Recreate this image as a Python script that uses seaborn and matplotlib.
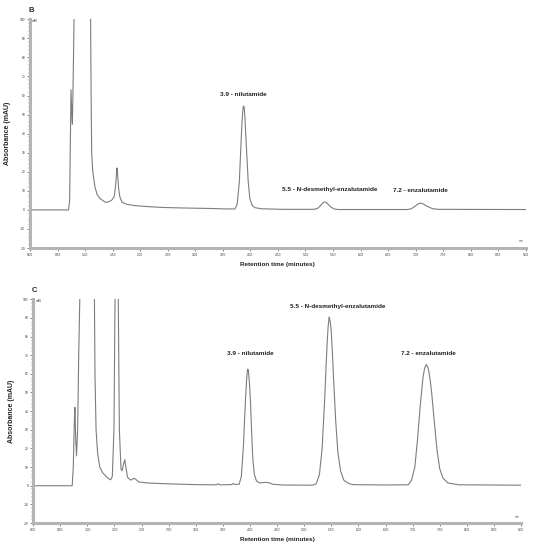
import numpy as np
import pandas as pd
import matplotlib
matplotlib.use('Agg')
import matplotlib.pyplot as plt
from matplotlib.ticker import MultipleLocator
import seaborn as sns

# Cromatograma B
tiempo_b = [0.00, 0.70, 0.72, 0.735, 0.745, 0.76, 0.77, 0.785, 0.80, 0.82, 1.08, 1.10, 1.11,
            1.12, 1.14, 1.18, 1.22, 1.27, 1.32, 1.37, 1.42, 1.48, 1.53, 1.555, 1.57, 1.58,
            1.59, 1.61, 1.63, 1.67, 1.75, 1.90, 2.10, 2.40, 2.80, 3.20, 3.60, 3.72, 3.76,
            3.80, 3.83, 3.85, 3.86, 3.87, 3.88, 3.89, 3.90, 3.91, 3.93, 3.96, 3.99, 4.03,
            4.08, 4.20, 4.60, 5.15, 5.22, 5.28, 5.31, 5.33, 5.35, 5.37, 5.40, 5.46, 5.52,
            5.60, 6.85, 6.92, 7.00, 7.04, 7.07, 7.10, 7.14, 7.20, 7.30, 7.40, 9.00]
abs_b = [0.0, 0.0, 5, 40, 63, 50, 45, 70, 100, 150, 150, 100, 60,
         30, 20, 12, 8, 6, 5, 4, 4.2, 5, 7, 13, 19, 22,
         19, 11, 7, 4, 3, 2.3, 1.8, 1.3, 1.0, 0.8, 0.5, 0.5, 3,
         15, 35, 47, 51, 54, 54.5, 53, 49, 43, 32, 15, 6, 2.5,
         1.2, 0.6, 0.3, 0.3, 0.8, 2.5, 3.5, 4.0, 4.2, 4.0, 3.3, 1.5, 0.5,
         0.2, 0.2, 0.6, 2.2, 3.1, 3.5, 3.5, 3.1, 2.0, 0.7, 0.3, 0.2]

# Cromatograma C
tiempo_c = [0.00, 0.72, 0.74, 0.76, 0.77, 0.785, 0.80, 0.82, 0.84, 0.86, 0.88, 1.11, 1.13,
            1.14, 1.16, 1.19, 1.23, 1.28, 1.33, 1.38, 1.43, 1.46, 1.49, 1.51, 1.52, 1.55,
            1.57, 1.59, 1.62, 1.64, 1.67, 1.69, 1.71, 1.74, 1.80, 1.86, 1.89, 1.95, 2.10,
            2.50, 3.00, 3.38, 3.41, 3.45, 3.66, 3.69, 3.72, 3.80, 3.84, 3.88, 3.90, 3.92,
            3.94, 3.95, 3.96, 3.97, 3.99, 4.01, 4.02, 4.05, 4.08, 4.12, 4.18, 4.28, 4.34,
            4.42, 4.60, 5.15, 5.22, 5.28, 5.33, 5.38, 5.40, 5.42, 5.44, 5.46, 5.48, 5.50,
            5.52, 5.54, 5.58, 5.62, 5.67, 5.73, 5.82, 5.90, 6.50, 6.92, 6.98, 7.04, 7.09,
            7.14, 7.19, 7.22, 7.25, 7.28, 7.30, 7.33, 7.35, 7.40, 7.45, 7.50, 7.56, 7.65,
            7.85, 9.00]
abs_c = [0.0, 0.0, 10, 35, 42, 25, 16, 30, 70, 100, 150, 150, 100,
         60, 30, 17, 10, 7, 5.5, 4, 3.2, 5, 30, 100, 150, 150,
         100, 30, 9, 8, 12, 14, 10, 4.5, 3, 4, 3.5, 2, 1.5,
         1.0, 0.6, 0.5, 1.0, 0.5, 0.6, 1.2, 0.7, 0.8, 5, 22, 36, 48,
         58, 61.5, 62.5, 61.5, 55, 44, 36, 15, 6, 2.5, 1.5, 1.8, 1.7,
         0.8, 0.4, 0.3, 1, 6, 20, 48, 62, 75, 85, 90.5, 88, 82,
         71, 58, 35, 18, 8, 3, 1.2, 0.6, 0.4, 0.5, 3, 10, 25,
         43, 58, 63, 65, 63.5, 61, 55, 50, 34, 19, 9, 4, 1.5,
         0.5, 0.3]

# Etiquetas de los picos
etiquetas_b = ['3.9 - nilutamide', '5.5 - N-desmethyl-enzalutamide', '7.2 - enzalutamide']
pos_b = [(3.87, 60.5), (5.44, 10.5), (7.08, 10.0)]
etiquetas_c = ['3.9 - nilutamide', '5.5 - N-desmethyl-enzalutamide', '7.2 - enzalutamide']
pos_c = [(4.00, 71), (5.62, 96), (7.29, 71)]

df_b = pd.DataFrame({'tiempo': tiempo_b, 'absorbancia': abs_b})
df_c = pd.DataFrame({'tiempo': tiempo_c, 'absorbancia': abs_c})

sns.set_style('white')
plt.rcParams['font.family'] = ['Liberation Sans', 'DejaVu Sans']

fig = plt.figure(figsize=(5.35, 5.5), dpi=100)
ax_b = fig.add_axes([0.056, 0.549, 0.927, 0.416])
ax_c = fig.add_axes([0.062, 0.049, 0.912, 0.407])

color_traza = '#7d7d7d'
color_eje = '#b4b4b4'

def dibujar(ax, df, etiquetas, posiciones, letra):
    sns.lineplot(data=df, x='tiempo', y='absorbancia', ax=ax, color=color_traza,
                 linewidth=0.8, estimator=None, sort=False)
    ax.set_xlim(0, 9)
    ax.set_ylim(-20, 100)
    ax.xaxis.set_major_locator(MultipleLocator(0.5))
    ax.xaxis.set_minor_locator(MultipleLocator(0.05))
    ax.yaxis.set_major_locator(MultipleLocator(10))
    ax.yaxis.set_minor_locator(MultipleLocator(2))
    ax.set_xticklabels(['%.2f' % v for v in ax.get_xticks()])
    ax.set_yticklabels(['%d' % v for v in ax.get_yticks()])
    ax.tick_params(axis='both', which='major', labelsize=2.3, length=2, width=0.5,
                   color='#555555', pad=1.5, labelcolor='#333333')
    ax.tick_params(axis='both', which='minor', length=1.2, width=0.3, color='#777777')
    ax.tick_params(axis='x', which='both', bottom=True)
    ax.tick_params(axis='y', which='both', left=True)
    for lado in ['top', 'right']:
        ax.spines[lado].set_visible(False)
    for lado in ['left', 'bottom']:
        ax.spines[lado].set_color(color_eje)
        ax.spines[lado].set_linewidth(2.2)
    ax.set_xlabel('Retention time (minutes)', fontsize=4.6, fontweight='bold', labelpad=4)
    ax.set_ylabel('Absorbance (mAU)', fontsize=5, fontweight='bold', labelpad=6)
    for texto, (x, y) in zip(etiquetas, posiciones):
        ax.text(x, y, texto, fontsize=4.6, fontweight='bold', ha='center', va='center',
                color='#222222')
    ax.text(0.04, 99, 'mAU', fontsize=2, ha='left', va='center', color='#333333')
    ax.text(8.96, -16.5, 'min', fontsize=2, ha='right', va='center', color='#333333')
    ax.text(-0.003, 1.04, letra, transform=ax.transAxes, fontsize=5.5, fontweight='bold',
            ha='left', va='center')

dibujar(ax_b, df_b, etiquetas_b, pos_b, 'B')
dibujar(ax_c, df_c, etiquetas_c, pos_c, 'C')

plt.savefig('out.png', dpi=100)
